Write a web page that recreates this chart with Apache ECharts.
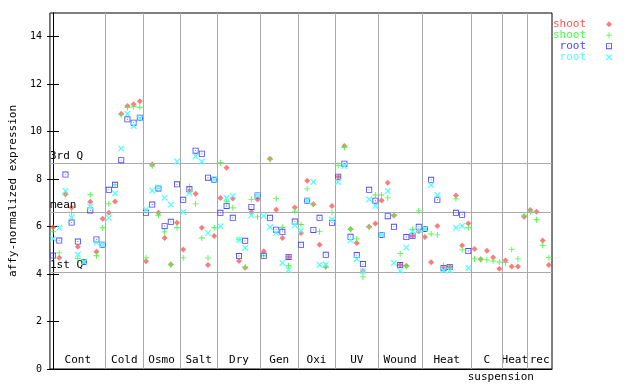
<!DOCTYPE html>
<html><head><meta charset="utf-8">
<script src="https://cdn.jsdelivr.net/npm/echarts@6/dist/echarts.min.js"></script>
<style>html,body{margin:0;padding:0;background:#fff}#c{width:640px;height:384px}</style>
</head><body><div id="c"></div>
<script>
// ---- data ----
var groupNames = ['Cont','Cold','Osmo','Salt','Dry','Gen','Oxi','UV','Wound','Heat','C','Heat','rec'];
var groupSizes = [9,6,6,6,7,6,6,7,7,8,5,4,4];
var subLabel = 'suspension';
var shoot1 = [5.97,4.69,7.36,6.80,5.15,4.50,7.05,4.94,6.33,
 6.58,7.06,10.75,11.08,11.16,11.28,
 4.54,8.62,6.58,5.52,4.40,6.16,
 5.03,7.50,7.38,5.95,4.38,5.60,
 7.21,8.48,7.18,4.55,4.27,6.62,7.14,
 4.96,8.86,6.71,5.52,4.72,6.80,
 5.73,7.93,6.94,5.23,4.32,6.87,
 8.10,9.40,5.90,5.31,4.13,5.99,6.13,
 7.10,7.85,6.47,4.38,4.35,5.60,5.80,
 5.56,4.50,6.03,4.25,4.30,7.31,5.20,6.13,
 5.06,4.62,4.98,4.70,4.22,
 4.57,4.32,4.32,6.41,
 6.70,6.63,5.41,4.38];
var shoot2 = [5.80,4.89,7.36,6.58,4.65,4.52,7.34,4.77,5.95,
 6.96,7.76,10.71,11.02,11.05,11.03,
 4.68,8.55,6.48,5.78,4.40,5.95,
 4.68,7.69,6.96,5.52,4.68,5.95,
 8.69,7.05,6.79,5.45,4.30,7.15,6.41,
 4.77,8.83,7.18,5.96,4.35,6.65,
 6.09,7.59,6.94,5.79,4.30,6.59,
 8.58,9.33,5.88,5.48,3.88,5.97,7.33,
 7.33,7.21,6.50,4.86,4.33,5.88,6.66,
 5.90,5.69,5.65,4.36,4.30,7.17,5.02,5.95,
 4.64,4.61,4.60,4.55,4.51,
 4.49,5.03,4.64,6.48,
 6.62,6.29,5.21,4.69];
var root1 = [4.78,5.41,8.19,6.17,5.37,4.51,6.68,5.46,5.24,
 7.55,7.76,8.80,10.52,10.38,10.59,
 6.58,6.93,7.61,6.02,6.20,7.78,
 7.13,7.57,9.20,9.07,8.06,7.97,
 6.58,6.87,6.37,4.76,5.40,6.83,7.31,
 4.77,6.37,5.87,5.78,4.72,6.21,
 5.23,7.09,5.86,6.37,4.81,6.16,
 8.10,8.65,5.57,4.80,4.42,7.55,7.09,
 5.65,6.44,5.99,4.38,5.56,5.61,5.99,
 5.90,7.97,7.13,4.25,4.30,6.58,6.50,4.97,
 null,null,null,null,null,
 null,null,null,null,
 null,null,null,null];
var root2 = [5.49,5.95,7.51,6.39,4.82,4.51,6.85,5.32,5.24,
 6.37,7.40,9.29,10.75,10.24,10.55,
 6.72,7.52,7.65,7.22,6.93,8.74,
 6.62,7.42,8.96,8.74,5.73,7.97,
 6.01,7.21,7.30,5.45,5.10,6.48,7.31,
 6.45,5.98,5.73,4.47,4.18,6.06,
 5.83,7.09,7.88,4.39,4.40,6.30,
 7.88,8.55,5.42,4.64,4.12,7.15,6.87,
 5.65,7.50,4.47,4.14,5.12,5.79,5.85,
 5.90,7.75,7.33,4.16,4.15,5.95,6.03,4.26,
 null,null,null,null,null,
 null,null,null,null,
 null,null,null,null];
var seriesNames = ['shoot','shoot','root','root'];
var quartiles = [{name:'3rd Q', v:8.69},{name:'mean', v:6.62},{name:'1st Q', v:4.09}];
var yTicks = [0,2,4,6,8,10,12,14];
var yMax = 15;

// ---- build ----
var colors = ['#ff5050','#40ff40','#4848ff','#50ffff'];
var symDiamond = 'path://M3.5,0L7,3.5L3.5,7L0,3.5Z';
var symPlus = 'path://M3,0h1v3h3v1h-3v3h-1v-3h-3v-1h3z';
var symSquare = 'path://M0,0h7v7h-7zM1,1v5h5v-5zM3,3h1v1h-1z';
var symX = 'path://M0,0h1l2.5,2.5l2.5,-2.5h1v1l-2.5,2.5l2.5,2.5v1h-1l-2.5,-2.5l-2.5,2.5h-1v-1l2.5,-2.5l-2.5,-2.5z';
var symbols = [symDiamond, symPlus, symSquare, symX];
var arrays = [shoot1, shoot2, root1, root2];
var n = shoot1.length;
var bounds = [], centers = [], acc = 0;
groupSizes.forEach(function(s, k){
  centers.push(acc + s/2 - 0.5);
  acc += s;
  if (k < groupSizes.length-1) bounds.push(acc - 0.5);
});
var font = 'DejaVu Sans Mono';
var uniqueNames = seriesNames.map(function(nm, k){ return nm + (k%2 ? ' ' : ''); });
var series = arrays.map(function(arr, k){
  var d = [];
  arr.forEach(function(v, i){ if (v != null) d.push([i, v]); });
  return {
    type:'scatter', name: uniqueNames[k], data:d,
    symbol: symbols[k], symbolSize: 6,
    itemStyle:{color: colors[k], opacity: k===0 ? 0.75 : 1},
    z: 3 + k, silent:true, animation:false
  };
});
series.push({
  type:'line', data:[], silent:true, animation:false,
  markLine:{
    silent:true, symbol:'none', animation:false,
    lineStyle:{color:'#aaaaaa', width:1, type:'solid'},
    label:{show:false},
    data: bounds.map(function(b){ return {xAxis:b}; })
  }
});
series.push({
  type:'line', data:[], silent:true, animation:false,
  markLine:{
    silent:true, symbol:'none', animation:false,
    lineStyle:{color:'#aaaaaa', width:1, type:'solid'},
    label:{show:true, position:'insideStartTop', formatter:'{b}', color:'#000',
      fontFamily:font, fontSize:11, distance:[0,1]},
    data: quartiles.map(function(q){ return {yAxis:q.v, name:q.name}; })
  }
});

var chart = echarts.init(document.getElementById('c'), null, {renderer:'canvas'});
chart.setOption({
  animation:false,
  legend:{
    orient:'vertical', right:28, top:18.65, padding:0, itemGap:0, align:'right',
    itemWidth:6, itemHeight:6, selectedMode:false,
    formatter:function(nm){ return nm.trim(); },
    textStyle:{fontFamily:font, fontSize:11, lineHeight:10.7, padding:[0,15,0,0]},
    data: uniqueNames.map(function(nm, k){
      return {name:nm, icon:symbols[k], itemStyle:{color:colors[k]}, textStyle:{color:colors[k]}};
    })
  },
  grid:{left:44, right:88, top:13, bottom:15, show:true, borderColor:'#000', borderWidth:1, backgroundColor:'transparent'},
  xAxis:[{
    type:'value', min:-0.5, max:n-0.5, position:'bottom',
    axisLine:{show:true, lineStyle:{color:'#000'}},
    axisTick:{show:false}, splitLine:{show:false},
    axisLabel:{show:true, inside:true, margin:3, customValues:centers,
      formatter:function(v){ var k = centers.indexOf(v); return k>=0 ? groupNames[k] : ''; },
      color:'#000', fontFamily:font, fontSize:11}
  },{
    type:'value', min:-0.5, max:n-0.5, position:'bottom',
    axisLine:{show:false}, axisTick:{show:false}, splitLine:{show:false},
    axisLabel:{show:true, margin:3, customValues:[(centers[10]+centers[11])/2],
      formatter:function(){ return subLabel; }, color:'#000', fontFamily:font, fontSize:11}
  }],
  yAxis:[{
    type:'value', min:0, max:yMax, interval:2, position:'left',
    name:'affy-normalized expression', nameLocation:'middle', nameGap:28,
    nameTextStyle:{color:'#000', fontFamily:font, fontSize:11},
    axisLine:{show:true, lineStyle:{color:'#000'}},
    axisTick:{show:true, inside:true, length:6, lineStyle:{color:'#000'}, customValues:yTicks},
    axisLabel:{color:'#000', fontFamily:font, fontSize:10, margin:8, customValues:yTicks},
    splitLine:{show:false}
  },{
    type:'value', min:0, max:yMax, interval:2, position:'right',
    axisLine:{show:true, lineStyle:{color:'#000'}},
    axisTick:{show:true, inside:true, length:6, lineStyle:{color:'#000'}, customValues:yTicks},
    axisLabel:{show:false}, splitLine:{show:false}
  }],
  series: series
});
</script></body></html>
